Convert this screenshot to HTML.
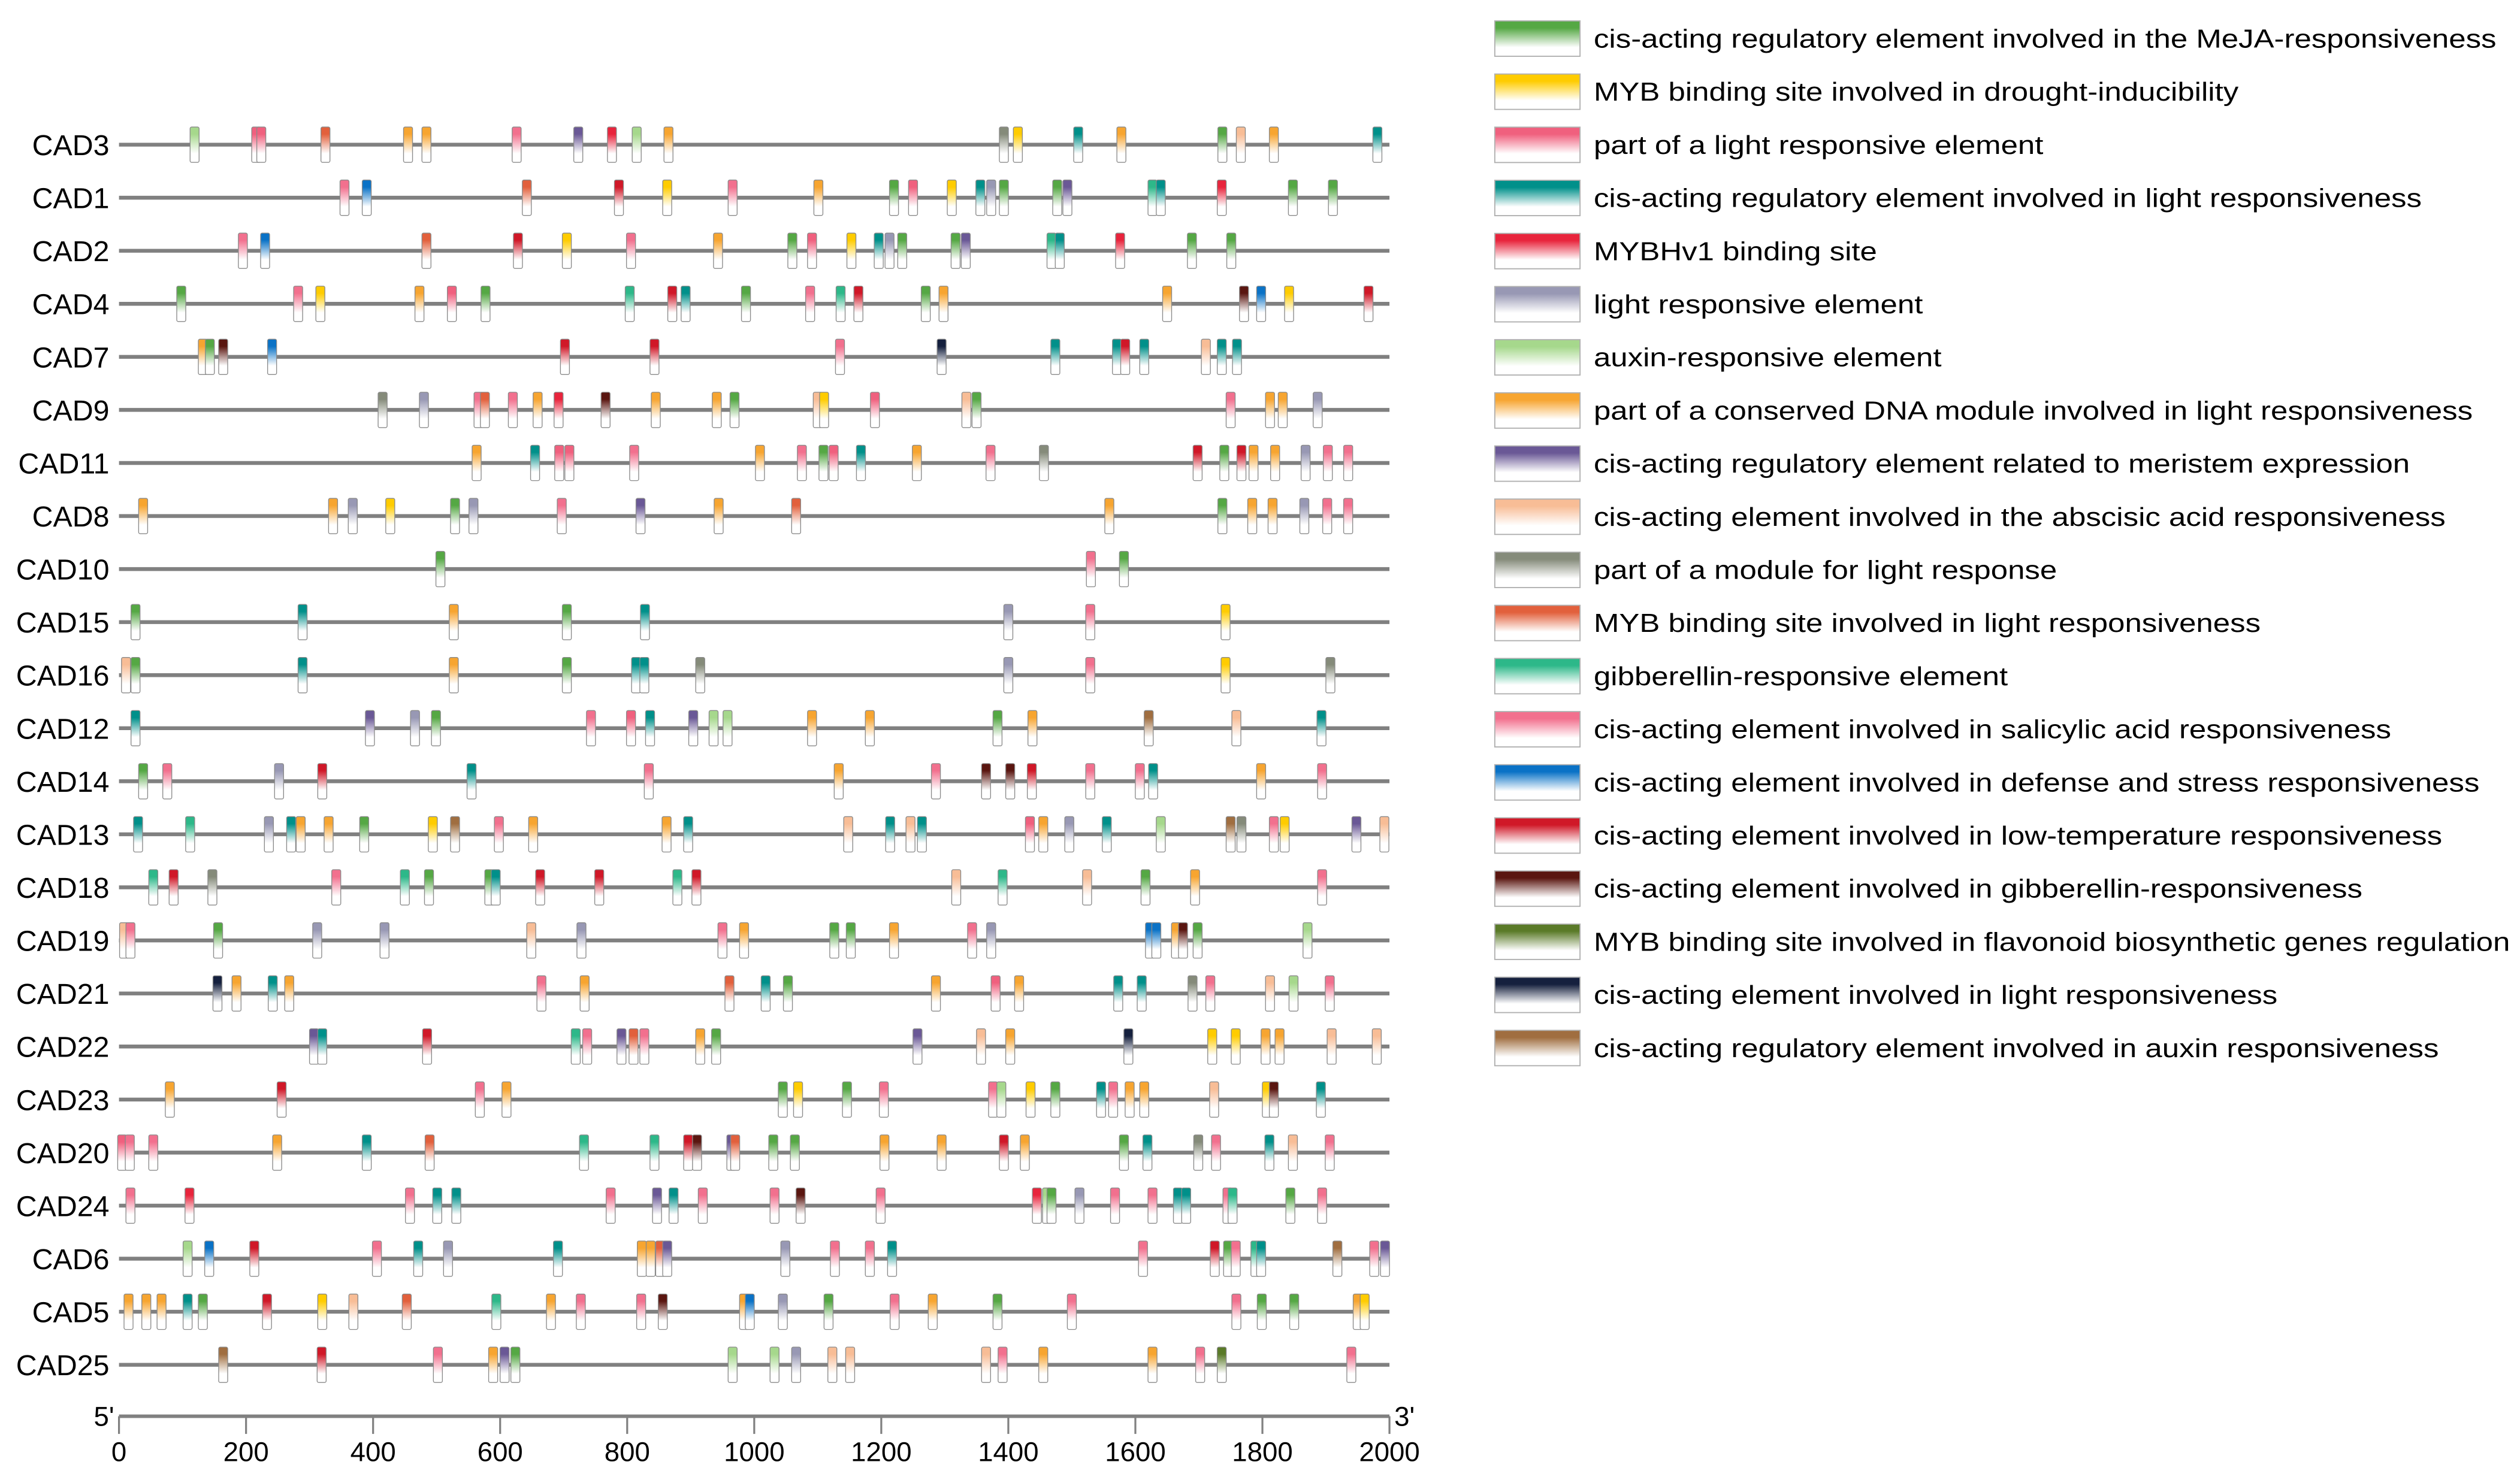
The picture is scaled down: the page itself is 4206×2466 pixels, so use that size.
<!DOCTYPE html>
<html><head><meta charset="utf-8">
<style>
html,body{margin:0;padding:0;background:#fff;}
svg{display:block;}
text{font-family:"Liberation Sans",Arial,sans-serif;fill:#000;}
</style></head>
<body>
<svg id="chart" width="4206" height="2466" viewBox="0 0 1567 918.8" preserveAspectRatio="none" xmlns="http://www.w3.org/2000/svg">
<defs id="defs"></defs>
<g id="rows"></g>
<g id="axis"></g>
<g id="legend"></g>
</svg>
<script>
const genes = ["CAD3","CAD1","CAD2","CAD4","CAD7","CAD9","CAD11","CAD8","CAD10","CAD15","CAD16","CAD12","CAD14","CAD13","CAD18","CAD19","CAD21","CAD22","CAD23","CAD20","CAD24","CAD6","CAD5","CAD25"];
const sitePositions = [
[119,216,224,325,455,484,626,723,776,815,865,1393,1415,1510,1578,1737,1766,1818,1981],
[355,390,642,787,863,966,1101,1220,1250,1311,1356,1373,1393,1477,1493,1627,1640,1736,1848,1911],
[195,230,484,628,705,806,943,1060,1091,1153,1196,1213,1233,1317,1333,1468,1481,1576,1689,1751],
[98,282,317,473,524,577,804,871,892,987,1088,1136,1164,1270,1298,1650,1771,1798,1842,1967],
[132,143,164,241,702,843,1135,1295,1474,1571,1584,1614,1711,1736,1760],
[415,480,566,576,620,659,692,766,845,941,969,1100,1110,1190,1334,1350,1750,1812,1832,1887],
[563,655,693,709,811,1009,1075,1109,1125,1168,1256,1372,1456,1698,1740,1767,1786,1820,1868,1903,1935],
[38,337,368,427,529,558,697,821,944,1066,1559,1737,1784,1816,1866,1902,1935],
[506,1530,1582],
[26,289,527,705,828,1400,1529,1742],
[11,26,289,527,705,814,827,915,1400,1529,1742,1907],
[26,395,466,499,743,806,836,904,936,958,1091,1182,1383,1438,1621,1759,1893],
[38,76,252,320,555,834,1133,1286,1365,1403,1437,1529,1607,1628,1798,1894],
[30,112,236,271,286,330,386,494,529,598,652,862,896,1148,1214,1246,1264,1434,1455,1496,1555,1640,1750,1767,1818,1835,1948,1992],
[54,86,147,342,450,488,583,593,663,756,879,909,1318,1391,1524,1616,1694,1894],
[8,18,156,312,418,649,728,950,984,1126,1152,1220,1343,1373,1623,1633,1664,1675,1698,1871],
[155,185,242,268,665,733,961,1018,1053,1286,1380,1417,1573,1610,1690,1718,1812,1849,1906],
[307,320,485,719,737,791,810,827,915,940,1257,1357,1403,1589,1721,1758,1805,1827,1909,1980],
[80,256,568,610,1045,1069,1146,1204,1376,1389,1435,1474,1546,1565,1591,1614,1724,1807,1818,1892],
[5,17,54,249,390,489,732,843,896,910,964,970,1030,1064,1205,1295,1393,1426,1582,1619,1699,1727,1811,1848,1906],
[18,111,458,501,531,774,847,873,919,1032,1073,1199,1445,1461,1468,1512,1568,1627,1667,1680,1745,1753,1844,1894],
[108,142,213,406,471,518,691,823,837,852,863,1049,1127,1182,1217,1612,1725,1746,1758,1789,1798,1918,1976,1993],
[15,43,67,108,132,233,320,369,453,594,680,727,822,856,984,993,1045,1117,1221,1281,1383,1500,1759,1799,1850,1950,1961],
[164,319,502,589,607,624,966,1032,1066,1123,1151,1365,1391,1455,1627,1702,1736,1940]
];
const siteTypes = [
[6,2,2,11,7,7,13,8,4,6,7,10,1,3,7,0,9,7,3],
[13,14,11,15,1,13,7,0,2,1,3,5,0,0,8,12,3,4,0,0],
[13,14,11,15,1,13,7,0,2,1,3,5,0,0,8,12,3,4,0,0],
[0,13,1,7,2,0,12,15,3,0,13,12,15,0,7,7,16,14,1,15],
[7,0,16,14,15,15,13,18,3,3,15,3,9,3,3],
[10,5,13,11,13,7,4,16,7,7,0,9,1,2,9,0,13,7,7,5],
[7,3,2,2,13,7,13,0,2,3,7,13,10,15,0,15,7,7,5,13,13],
[7,7,5,1,0,5,13,8,7,11,7,0,7,7,5,13,13],
[0,13,0],
[0,3,7,0,3,5,13,1],
[9,0,3,7,0,3,3,10,5,13,1,10],
[3,8,5,0,13,2,3,8,6,6,7,7,0,7,19,9,3],
[0,13,5,15,3,13,7,13,16,16,15,13,13,3,7,13],
[3,12,5,3,7,7,0,1,19,13,7,7,3,9,3,9,3,2,7,5,3,6,19,10,13,1,8,9],
[12,15,10,13,12,0,0,3,15,15,12,15,9,12,9,0,7,13],
[9,13,0,5,5,9,5,13,7,0,0,7,13,5,14,14,7,16,0,6],
[18,7,3,7,13,7,11,3,0,7,2,7,3,3,10,13,9,6,13],
[8,3,15,12,13,8,11,13,7,0,8,9,7,18,1,1,7,7,9,9],
[7,15,13,7,0,1,0,13,13,6,1,0,3,13,7,7,9,1,16,3],
[2,13,13,7,3,11,12,12,15,16,8,11,0,0,7,7,15,7,0,3,10,13,3,9,13],
[13,4,13,3,3,13,8,3,13,13,16,13,4,6,0,5,13,13,3,3,13,12,0,13],
[6,14,15,13,3,5,3,7,7,11,8,5,13,13,3,13,15,0,13,12,3,19,13,8],
[7,7,7,3,0,15,1,9,11,12,7,13,13,16,7,14,5,0,13,7,0,13,13,0,0,7,1],
[19,15,13,7,8,0,6,6,5,9,9,9,13,7,7,13,17,13]
];
const elementLabels = [
"cis-acting regulatory element involved in the MeJA-responsiveness",
"MYB binding site involved in drought-inducibility",
"part of a light responsive element",
"cis-acting regulatory element involved in light responsiveness",
"MYBHv1 binding site",
"light responsive element",
"auxin-responsive element",
"part of a conserved DNA module involved in light responsiveness",
"cis-acting regulatory element related to meristem expression",
"cis-acting element involved in the abscisic acid responsiveness",
"part of a module for light response",
"MYB binding site involved in light responsiveness",
"gibberellin-responsive element",
"cis-acting element involved in salicylic acid responsiveness",
"cis-acting element involved in defense and stress responsiveness",
"cis-acting element involved in low-temperature responsiveness",
"cis-acting element involved in gibberellin-responsiveness",
"MYB binding site involved in flavonoid biosynthetic genes regulation",
"cis-acting element involved in light responsiveness",
"cis-acting regulatory element involved in auxin responsiveness"
];
const elementColors = ["#55a844","#ffcc00","#f0607e","#00908a","#e8243c","#9898b4","#a6d88c","#f7a530","#6a5896","#f8bd96","#858b7a","#e2603c","#2db889","#f2708e","#0a72c6","#d01828","#5a1610","#5a7a28","#15203e","#a06e40"];
const xTicks = [0,200,400,600,800,1000,1200,1400,1600,1800,2000];

const NS = "http://www.w3.org/2000/svg";
const X0 = 74, X1 = 864, MAXBP = 2000;
const Y0 = 90, DY = 33.0;
function xScale(v){ return X0 + (v / MAXBP) * (X1 - X0); }
function yRow(i){ return Y0 + i * DY; }
function mk(tag, attrs, parent){
  const el = document.createElementNS(NS, tag);
  for (const k in attrs) el.setAttribute(k, attrs[k]);
  parent.appendChild(el);
  return el;
}
const defs = document.getElementById('defs');
elementColors.forEach((c, i) => {
  const g = mk('linearGradient', {id: 'g' + i, x1: 0, y1: 0, x2: 0, y2: 1}, defs);
  mk('stop', {offset: '0', 'stop-color': c}, g);
  mk('stop', {offset: '0.2', 'stop-color': c}, g);
  mk('stop', {offset: '0.75', 'stop-color': '#ffffff'}, g);
  mk('stop', {offset: '1', 'stop-color': '#ffffff'}, g);
});

const rowsG = document.getElementById('rows');
genes.forEach((name, i) => {
  const y = yRow(i);
  const g = mk('g', {}, rowsG);
  
  
  const t = mk('text', {x: 68, y: y + 6.5, 'text-anchor': 'end', 'font-size': 18}, g);
  t.textContent = name;
  
  
  const ln = mk('line', {x1: X0, x2: X1, y1: y, y2: y, stroke: '#808080', 'stroke-width': 2.4}, g);
  
  
  sitePositions[i].forEach((p, j) => {
    const ty = siteTypes[i][j];
    const r = mk('rect', {x: xScale(p) - 2.8, y: y - 11, width: 5.6, height: 22, rx: 1, fill: 'url(#g' + ty + ')', stroke: '#8a8a8a', 'stroke-width': 0.5}, g);
    
    
  });
});

const axisG = document.getElementById('axis');
const axLine = mk('line', {x1: X0, x2: X1, y1: 881, y2: 881, stroke: '#808080', 'stroke-width': 2.2}, axisG);


xTicks.forEach(v => {
  const x = xScale(v);
  const tk = mk('line', {x1: x, x2: x, y1: 881, y2: 892, stroke: '#808080', 'stroke-width': 1.2}, axisG);
  
  
  const tl = mk('text', {x: x, y: 909, 'text-anchor': 'middle', 'font-size': 17}, axisG);
  tl.textContent = v;
  
  
});
const five = mk('text', {x: 71, y: 887, 'text-anchor': 'end', 'font-size': 17}, axisG);
five.textContent = "5'";


const three = mk('text', {x: 867, y: 887, 'font-size': 17}, axisG);
three.textContent = "3'";



const legG = document.getElementById('legend');
elementLabels.forEach((lab, i) => {
  const y = 24 + i * 33.05;
  const g = mk('g', {}, legG);
  
  
  const b = mk('rect', {x: 929.5, y: y - 11, width: 53, height: 22, fill: 'url(#g' + i + ')', stroke: '#b0b0b0', 'stroke-width': 0.7}, g);
  
  
  const t = mk('text', {x: 991, y: y + 5.6, 'font-size': 16.3}, g);
  t.textContent = lab;
  
  
  const w = t.getComputedTextLength();
  if (w > 0) {
    t.setAttribute('textLength', (w * 1.165).toFixed(1));
    t.setAttribute('lengthAdjust', 'spacingAndGlyphs');
  }
});
</script>
</body></html>
